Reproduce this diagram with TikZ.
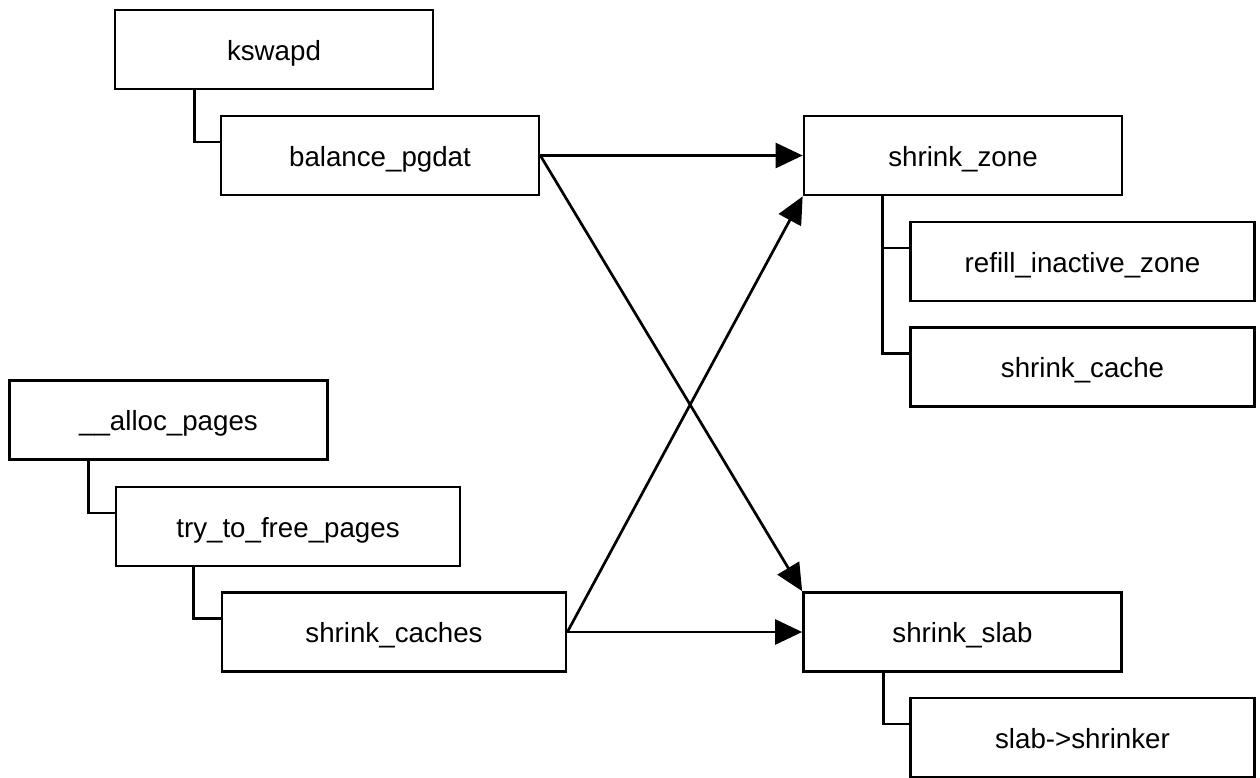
\documentclass[tikz,border=0pt]{standalone}
\usepackage{fontspec}
\setmainfont{Liberation Sans}
\usetikzlibrary{arrows.meta}
\begin{document}
\begin{tikzpicture}[x=1pt,y=-1pt,
  box/.style={draw, line width=2.7pt, rectangle, minimum height=79pt, inner sep=0pt,
    text height=21pt, text depth=0pt,
    font=\fontsize{27.7}{33}\selectfont},
  narrow/.style={box, minimum width=318pt},
  wide/.style={box, minimum width=344pt},
  link/.style={line width=2.7pt},
  arr/.style={line width=2.7pt, -{Triangle[length=27pt,width=25pt]}}]
\useasboundingbox (0,0) rectangle (1260,777);
% left column, top group
\node[narrow] (kswapd) at (274,49.5) {kswapd};
\node[narrow] (balance) at (380,155.5) {balance\_pgdat};
% left column, bottom group
\node[narrow] (alloc) at (168.5,420) {\_\_alloc\_pages};
\node[wide] (try) at (288,526.5) {try\_to\_free\_pages};
\node[wide] (caches) at (394,632) {shrink\_caches};
% right column
\node[narrow] (zone) at (963,155.5) {shrink\_zone};
\node[wide] (refill) at (1082.5,261.5) {refill\_inactive\_zone};
\node[wide] (cache) at (1082.5,367) {shrink\_cache};
\node[narrow] (slab) at (962.5,632) {shrink\_slab};
\node[wide] (shrinker) at (1082.5,737.5) {slab->shrinker};
% tree links
\draw[link] ([xshift=81pt]kswapd.south west) |- ([yshift=13.5pt]balance.west);
\draw[link] ([xshift=80pt]alloc.south west) |- ([yshift=13.5pt]try.west);
\draw[link] ([xshift=79pt]try.south west) |- ([yshift=13.5pt]caches.west);
\draw[link] ([xshift=80pt]zone.south west) |- ([yshift=13.5pt]refill.west);
\draw[link] ([xshift=80pt]zone.south west) |- ([yshift=13.5pt]cache.west);
\draw[link] ([xshift=81pt]slab.south west) |- ([yshift=13.5pt]shrinker.west);
% calls
\draw[arr] (balance.east) -- (zone.west);
\draw[arr] (balance.east) -- (slab.north west);
\draw[arr] (caches.east) -- (slab.west);
\draw[arr] (caches.east) -- (zone.south west);
\end{tikzpicture}
\end{document}
